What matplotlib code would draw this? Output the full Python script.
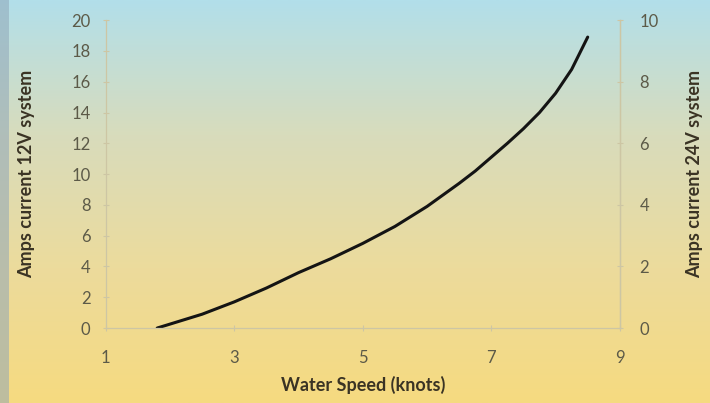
import numpy as np
import matplotlib.pyplot as plt
from matplotlib.colors import LinearSegmentedColormap

# curve
speed_knots = [1.8, 2.5, 3.0, 3.5, 4.0, 4.5, 5.0, 5.5, 6.0, 6.5, 6.75, 7.0,
               7.25, 7.5, 7.75, 8.0, 8.25, 8.5]
amps_12v = [0.0, 0.9, 1.7, 2.6, 3.6, 4.5, 5.5, 6.6, 7.9, 9.4, 10.2, 11.1,
            12.0, 12.95, 14.0, 15.25, 16.8, 18.9]

x_ticks = [1, 3, 5, 7, 9]
left_ticks = list(range(0, 21, 2))
right_ticks = list(range(0, 11, 2))

TICK_COLOR = "#5c5a48"
LABEL_COLOR = "#3a3324"
SPINE_COLOR = "#cdc6a4"

plt.rcParams["font.family"] = ["Lato", "DejaVu Sans"]

fig = plt.figure(figsize=(7.1, 4.03), dpi=100)

# background gradient: light blue at top to yellow at bottom
bg = fig.add_axes([0, 0, 1, 1], zorder=0)
cmap = LinearSegmentedColormap.from_list(
    "bg", ["#f6da80", "#ecdb9c", "#d8dcbc", "#b2dfea"])
grad = np.linspace(0, 1, 256).reshape(-1, 1)
bg.imshow(grad, aspect="auto", cmap=cmap, origin="lower", extent=[0, 1, 0, 1])
# darker strip at left edge
bg.axvspan(0, 0.013, color="#8fa6b8", alpha=0.55, lw=0)
bg.set_xlim(0, 1)
bg.set_ylim(0, 1)
bg.axis("off")

ax = fig.add_axes([0.149, 0.186, 0.724, 0.764], zorder=1)
ax.patch.set_alpha(0)
ax.plot(speed_knots, amps_12v, color="#141414", lw=2.2, solid_capstyle="round")

ax.set_xlim(1, 9)
ax.set_ylim(0, 20)
ax.set_xticks(x_ticks)
ax.set_yticks(left_ticks)
ax.spines["top"].set_visible(False)
for s in ["left", "bottom", "right"]:
    ax.spines[s].set_color(SPINE_COLOR)
    ax.spines[s].set_linewidth(0.9)
ax.tick_params(axis="both", colors=SPINE_COLOR, labelcolor=TICK_COLOR,
               labelsize=12, length=4, width=0.8, direction="inout")
ax.tick_params(axis="y", pad=9)
ax.tick_params(axis="x", pad=14)
ax.set_xlabel("Water Speed (knots)", fontsize=13, fontweight="bold",
              color=LABEL_COLOR, labelpad=7)
ax.set_ylabel("Amps current 12V system", fontsize=13, fontweight="bold",
              color=LABEL_COLOR, labelpad=26)

ax2 = ax.twinx()
ax2.set_ylim(0, 10)
ax2.set_yticks(right_ticks)
for s in ["top", "left", "bottom"]:
    ax2.spines[s].set_visible(False)
ax2.spines["right"].set_color(SPINE_COLOR)
ax2.spines["right"].set_linewidth(0.9)
ax2.tick_params(axis="y", colors=SPINE_COLOR, labelcolor=TICK_COLOR,
                labelsize=12, length=4, width=0.8, direction="inout", pad=12)
ax2.set_ylabel("Amps current 24V system", fontsize=13, fontweight="bold",
               color=LABEL_COLOR, labelpad=20)

fig.savefig("out.png", dpi=100)
